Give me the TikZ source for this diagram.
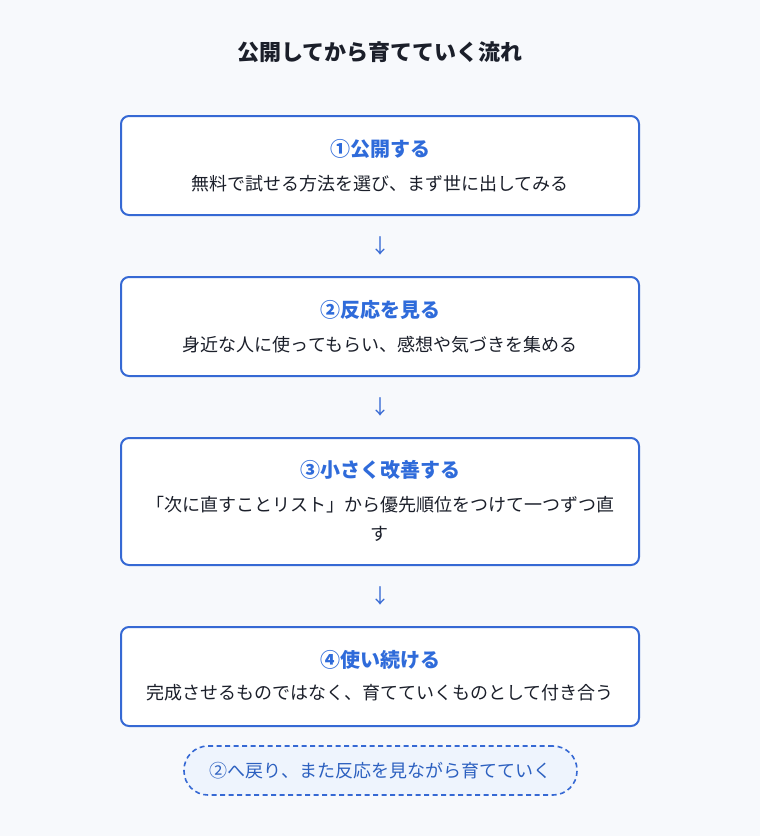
\documentclass[tikz,border=0pt]{standalone}
\usepackage{fontspec}
\setmainfont{Noto Sans CJK JP}
\usetikzlibrary{positioning}
\definecolor{bg}{HTML}{F7F9FC}
\definecolor{bord}{HTML}{3669D4}
\definecolor{ttl}{HTML}{2F6BDA}
\definecolor{txt}{HTML}{1B1F2A}
\definecolor{pillfill}{HTML}{EEF4FD}
\definecolor{pilltxt}{HTML}{2C60C0}
\tikzset{
  card/.style={draw=bord, line width=2pt, fill=white, rounded corners=8pt, minimum width=518pt, inner sep=0pt},
  cardtitle/.style={text=ttl, font=\fontsize{20}{24}\selectfont\bfseries, anchor=center},
  cardbody/.style={text=txt, font=\fontsize{18}{29}\selectfont, anchor=center, align=center},
  arrowtxt/.style={text=bord, font=\fontsize{20}{24}\selectfont, anchor=center},
  pill/.style={draw=bord, line width=1.6pt, dash pattern=on 5pt off 3.5pt, fill=pillfill, rounded corners=24pt, minimum width=393pt, minimum height=49pt, inner sep=0pt, text=pilltxt, font=\fontsize{18}{21}\selectfont},
}
\begin{document}
\begin{tikzpicture}[x=1pt,y=-1pt]
\path[fill=bg] (0,0) rectangle (760,836);
\useasboundingbox (0,0) rectangle (760,836);
\node[text=txt, font=\fontsize{22}{26}\selectfont\bfseries] (title) at (380,52) {公開してから育てていく流れ};
% cards
\path[card] (121,116) rectangle (639,215);
\node[cardtitle] (t1) at (380,149) {①公開する};
\node[cardbody] (b1) at (380,184) {無料で試せる方法を選び、まず世に出してみる};
\path[card] (121,277) rectangle (639,376);
\node[cardtitle] (t2) at (380,310) {②反応を見る};
\node[cardbody] (b2) at (380,345) {身近な人に使ってもらい、感想や気づきを集める};
\path[card] (121,438) rectangle (639,565);
\node[cardtitle] (t3) at (380,470) {③小さく改善する};
\node[cardbody] (b3) at (380,519) {「次に直すことリスト」から優先順位をつけて一つずつ直\\す};
\path[card] (121,627) rectangle (639,726);
\node[cardtitle] (t4) at (380,660) {④使い続ける};
\node[cardbody] (b4) at (380,693) {完成させるものではなく、育てていくものとして付き合う};
% arrows
\node[arrowtxt] (a1) at (380,246) {↓};
\node[arrowtxt] (a2) at (380,407) {↓};
\node[arrowtxt] (a3) at (380,596) {↓};
% pill
\node[pill] (p) at (380.5,770.5) {②へ戻り、また反応を見ながら育てていく};
\end{tikzpicture}
\end{document}
